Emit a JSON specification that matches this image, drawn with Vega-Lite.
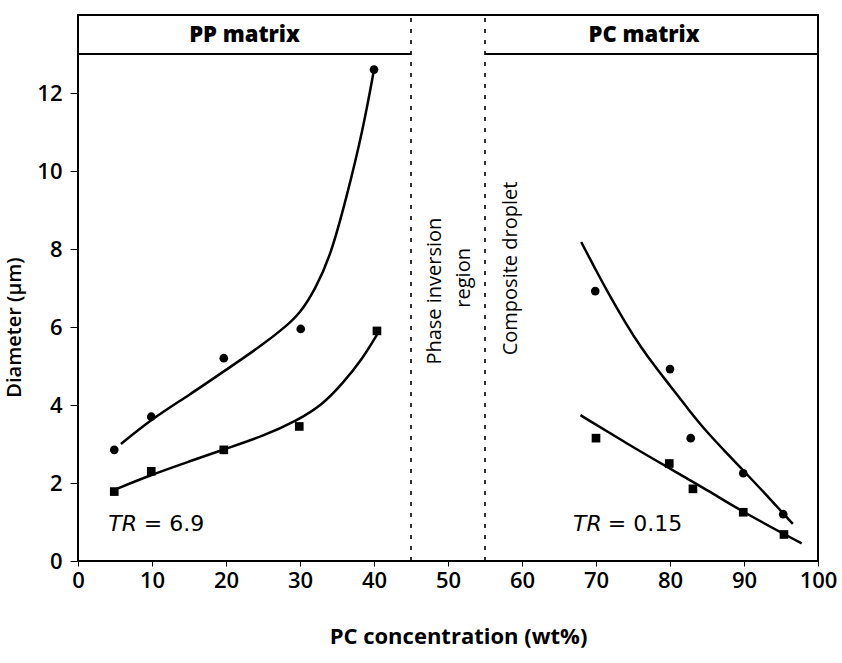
{
  "$schema": "https://vega.github.io/schema/vega-lite/v6.json",
  "width": 740,
  "height": 546,
  "autosize": "none",
  "padding": {"left": 78, "top": 15, "right": 24, "bottom": 102},
  "background": "white",
  "config": {
    "view": {"stroke": "black", "strokeWidth": 2},
    "font": "Open Sans"
  },
  "datasets": {
    "points": [
      {"pc": 4.9, "d": 2.85, "series": "PP upper", "shape": "circle"},
      {"pc": 9.9, "d": 3.7, "series": "PP upper", "shape": "circle"},
      {"pc": 19.7, "d": 5.2, "series": "PP upper", "shape": "circle"},
      {"pc": 30.1, "d": 5.95, "series": "PP upper", "shape": "circle"},
      {"pc": 40.0, "d": 12.6, "series": "PP upper", "shape": "circle"},
      {"pc": 4.9, "d": 1.78, "series": "PP lower", "shape": "square"},
      {"pc": 9.9, "d": 2.3, "series": "PP lower", "shape": "square"},
      {"pc": 19.7, "d": 2.85, "series": "PP lower", "shape": "square"},
      {"pc": 29.9, "d": 3.45, "series": "PP lower", "shape": "square"},
      {"pc": 40.4, "d": 5.9, "series": "PP lower", "shape": "square"},
      {"pc": 69.9, "d": 6.92, "series": "PC upper", "shape": "circle"},
      {"pc": 80.0, "d": 4.92, "series": "PC upper", "shape": "circle"},
      {"pc": 82.8, "d": 3.15, "series": "PC upper", "shape": "circle"},
      {"pc": 89.9, "d": 2.25, "series": "PC upper", "shape": "circle"},
      {"pc": 95.3, "d": 1.2, "series": "PC upper", "shape": "circle"},
      {"pc": 70.0, "d": 3.15, "series": "PC lower", "shape": "square"},
      {"pc": 79.9, "d": 2.5, "series": "PC lower", "shape": "square"},
      {"pc": 83.1, "d": 1.85, "series": "PC lower", "shape": "square"},
      {"pc": 89.9, "d": 1.25, "series": "PC lower", "shape": "square"},
      {"pc": 95.4, "d": 0.68, "series": "PC lower", "shape": "square"}
    ],
    "curves": [
      {"pc": 5.8, "d": 3.0, "series": "PP upper"},
      {"pc": 10.0, "d": 3.65, "series": "PP upper"},
      {"pc": 15.0, "d": 4.25, "series": "PP upper"},
      {"pc": 20.0, "d": 4.9, "series": "PP upper"},
      {"pc": 25.0, "d": 5.55, "series": "PP upper"},
      {"pc": 28.0, "d": 6.0, "series": "PP upper"},
      {"pc": 30.0, "d": 6.35, "series": "PP upper"},
      {"pc": 32.0, "d": 6.95, "series": "PP upper"},
      {"pc": 34.1, "d": 7.8, "series": "PP upper"},
      {"pc": 36.3, "d": 9.33, "series": "PP upper"},
      {"pc": 38.5, "d": 11.05, "series": "PP upper"},
      {"pc": 40.0, "d": 12.6, "series": "PP upper"},
      {"pc": 4.6, "d": 1.8, "series": "PP lower"},
      {"pc": 10.0, "d": 2.22, "series": "PP lower"},
      {"pc": 15.0, "d": 2.55, "series": "PP lower"},
      {"pc": 20.0, "d": 2.88, "series": "PP lower"},
      {"pc": 25.0, "d": 3.2, "series": "PP lower"},
      {"pc": 29.6, "d": 3.6, "series": "PP lower"},
      {"pc": 33.0, "d": 4.0, "series": "PP lower"},
      {"pc": 35.8, "d": 4.56, "series": "PP lower"},
      {"pc": 38.5, "d": 5.2, "series": "PP lower"},
      {"pc": 40.4, "d": 5.8, "series": "PP lower"},
      {"pc": 68.0, "d": 8.18, "series": "PC upper"},
      {"pc": 70.0, "d": 7.45, "series": "PC upper"},
      {"pc": 72.0, "d": 6.75, "series": "PC upper"},
      {"pc": 74.0, "d": 6.1, "series": "PC upper"},
      {"pc": 76.0, "d": 5.5, "series": "PC upper"},
      {"pc": 78.0, "d": 4.98, "series": "PC upper"},
      {"pc": 80.0, "d": 4.5, "series": "PC upper"},
      {"pc": 82.5, "d": 3.88, "series": "PC upper"},
      {"pc": 85.0, "d": 3.3, "series": "PC upper"},
      {"pc": 87.5, "d": 2.8, "series": "PC upper"},
      {"pc": 90.0, "d": 2.3, "series": "PC upper"},
      {"pc": 93.0, "d": 1.7, "series": "PC upper"},
      {"pc": 96.6, "d": 0.95, "series": "PC upper"},
      {"pc": 67.9, "d": 3.74, "series": "PC lower"},
      {"pc": 74.1, "d": 3.02, "series": "PC lower"},
      {"pc": 79.9, "d": 2.38, "series": "PC lower"},
      {"pc": 85.4, "d": 1.78, "series": "PC lower"},
      {"pc": 89.9, "d": 1.25, "series": "PC lower"},
      {"pc": 97.8, "d": 0.45, "series": "PC lower"}
    ]
  },
  "encoding": {
    "x": {
      "field": "pc", "type": "quantitative",
      "scale": {"domain": [0, 100], "nice": false, "zero": false},
      "axis": {
        "values": [0, 10, 20, 30, 40, 50, 60, 70, 80, 90, 100],
        "title": "PC concentration (wt%)",
        "grid": false, "domain": false,
        "tickColor": "black", "tickSize": 5,
        "labelFont": "Open Sans", "labelFontSize": 22, "labelFontWeight": 600,
        "labelColor": "black", "labelPadding": 4, "labelFlush": false,
        "titleFont": "Open Sans", "titleFontSize": 22, "titleFontWeight": "bold",
        "titleColor": "black", "titlePadding": 35, "titleX": 380
      }
    },
    "y": {
      "field": "d", "type": "quantitative",
      "scale": {"domain": [0, 14], "nice": false},
      "axis": {
        "values": [0, 2, 4, 6, 8, 10, 12],
        "title": "Diameter (μm)",
        "grid": false, "domain": false,
        "tickColor": "black", "tickSize": 8,
        "labelFont": "Open Sans", "labelFontSize": 22, "labelFontWeight": 600,
        "labelColor": "black", "labelPadding": 8,
        "titleFont": "Open Sans", "titleFontSize": 20, "titleFontWeight": 600,
        "titleColor": "black", "titlePadding": 12, "titleY": 312
      }
    }
  },
  "layer": [
    {
      "data": {"values": [{"pc": 0, "pc2": 45, "d": 13}, {"pc": 55, "pc2": 100, "d": 13}]},
      "mark": {"type": "rule", "color": "black", "strokeWidth": 2},
      "encoding": {"x2": {"field": "pc2"}}
    },
    {
      "data": {"values": [{"pc": 45, "d": 0, "d2": 14}, {"pc": 55, "d": 0, "d2": 14}]},
      "mark": {"type": "rule", "color": "black", "strokeWidth": 1.6, "strokeDash": [4, 7]},
      "encoding": {"y2": {"field": "d2"}}
    },
    {
      "data": {"name": "curves"},
      "mark": {"type": "line", "color": "black", "strokeWidth": 2.5, "interpolate": "basis"},
      "encoding": {"detail": {"field": "series"}}
    },
    {
      "data": {"name": "points"},
      "mark": {"type": "point", "filled": true, "color": "black", "opacity": 1},
      "encoding": {
        "shape": {"field": "shape", "type": "nominal", "scale": {"domain": ["circle", "square"], "range": ["circle", "square"]}, "legend": null},
        "size": {"value": 75}
      }
    },
    {
      "data": {"values": [
        {"pc": 22.5, "d": 13.5, "label": "PP matrix"},
        {"pc": 76.5, "d": 13.5, "label": "PC matrix"}
      ]},
      "mark": {"type": "text", "font": "Open Sans", "fontSize": 22, "fontWeight": 800, "color": "black", "align": "center", "baseline": "middle"},
      "encoding": {"text": {"field": "label"}}
    },
    {
      "data": {"values": [
        {"pc": 4.1, "d": 0.95, "label": "TR"},
        {"pc": 66.9, "d": 0.95, "label": "TR"}
      ]},
      "mark": {"type": "text", "font": "DejaVu Sans", "fontSize": 22, "fontStyle": "italic", "color": "black", "align": "left", "baseline": "middle"},
      "encoding": {"text": {"field": "label"}}
    },
    {
      "data": {"values": [
        {"pc": 8.9, "d": 0.95, "label": "= 6.9"},
        {"pc": 71.6, "d": 0.95, "label": "= 0.15"}
      ]},
      "mark": {"type": "text", "font": "DejaVu Sans", "fontSize": 22, "color": "black", "align": "left", "baseline": "middle"},
      "encoding": {"text": {"field": "label"}}
    },
    {
      "data": {"values": [
        {"pc": 48.2, "d": 6.92, "label": "Phase inversion"},
        {"pc": 52.2, "d": 7.26, "label": "region"},
        {"pc": 58.5, "d": 7.5, "label": "Composite droplet"}
      ]},
      "mark": {"type": "text", "font": "Open Sans", "fontSize": 20, "color": "black", "angle": 270, "align": "center", "baseline": "middle"},
      "encoding": {"text": {"field": "label"}}
    }
  ]
}
